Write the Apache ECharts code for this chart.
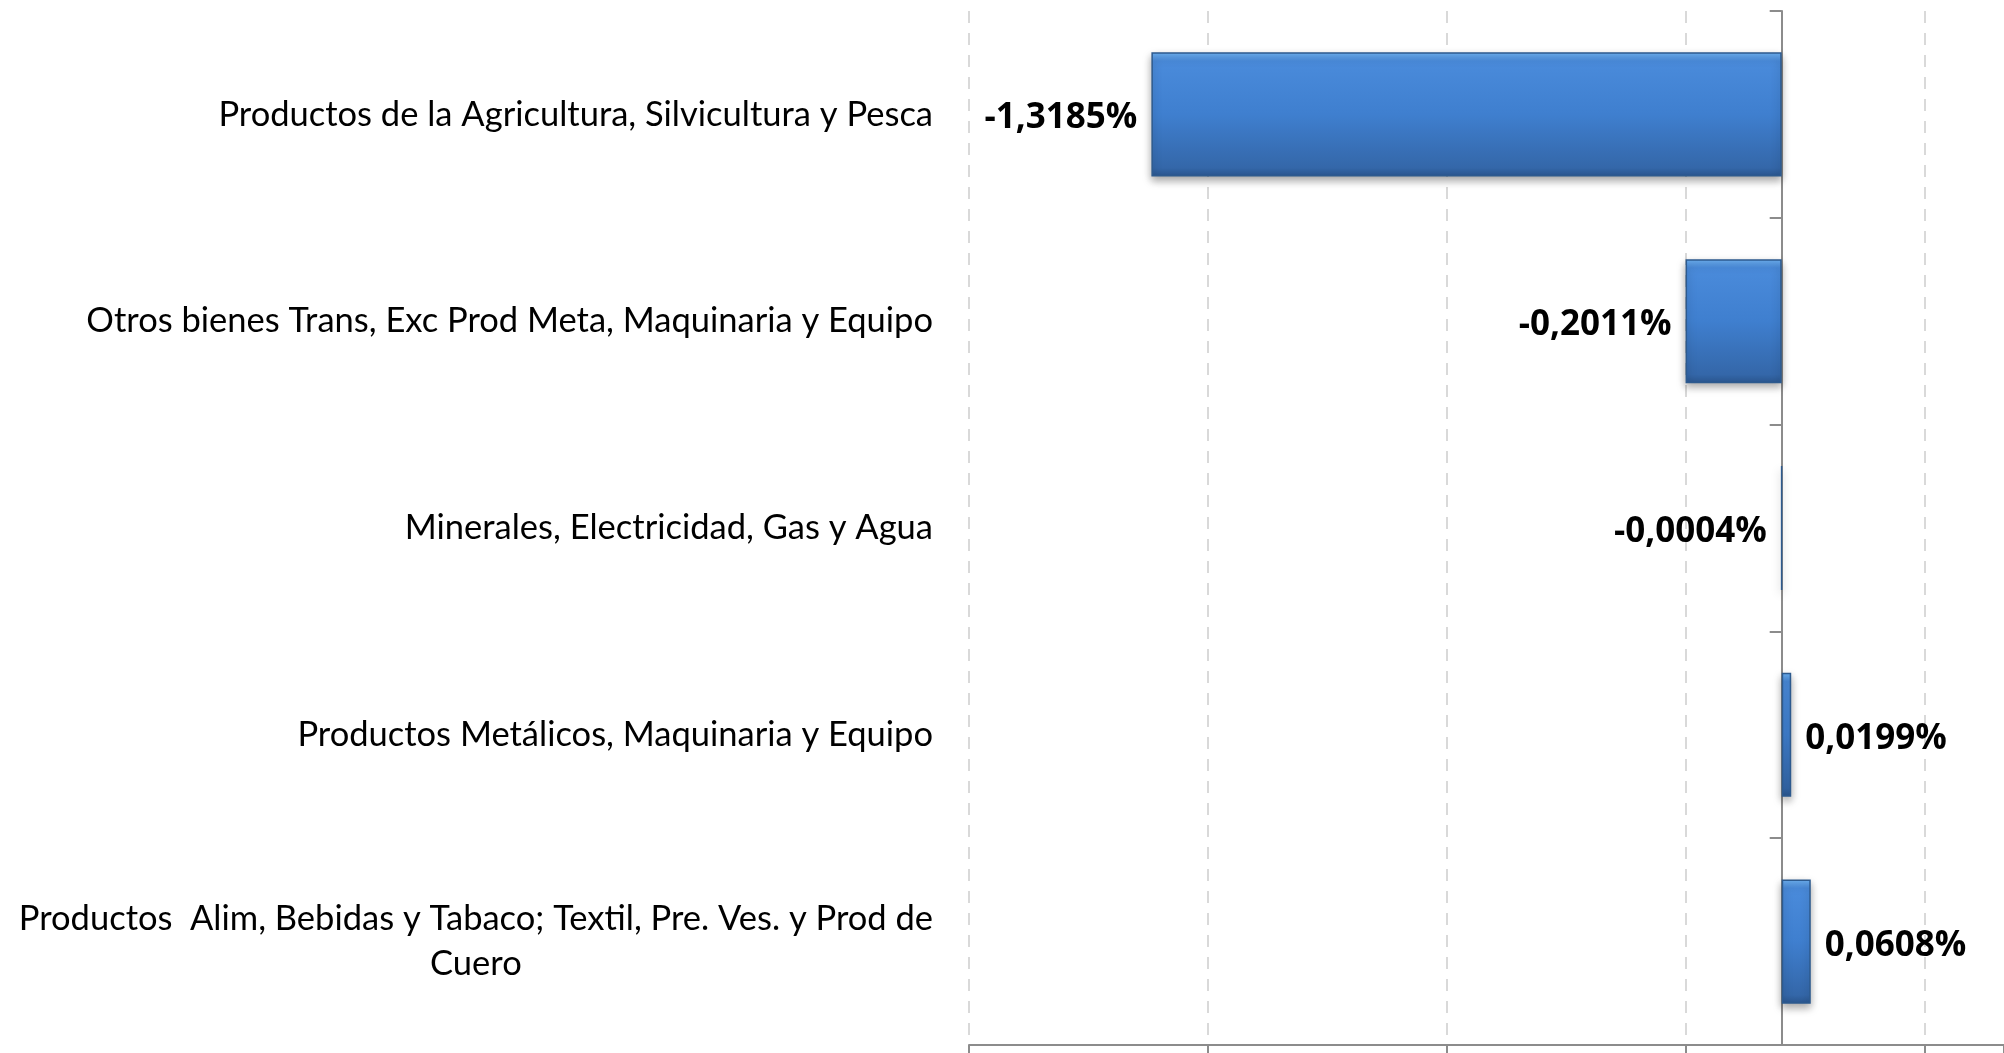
<!DOCTYPE html>
<html lang="es">
<head>
<meta charset="UTF-8">
<title>Variación por grupo de productos</title>
<script src="https://cdn.jsdelivr.net/npm/echarts@6/dist/echarts.min.js"></script>
<style>
  html, body { margin: 0; padding: 0; background: #fff; }
</style>
</head>
<body>
<div id="main" style="width: 2004px; height: 1053px"></div>
<script type="text/javascript">
  // categorias (de arriba a abajo) y valores en %
  var categorias = [
    'Productos de la Agricultura, Silvicultura y Pesca',
    'Otros bienes Trans, Exc Prod Meta, Maquinaria y Equipo',
    'Minerales, Electricidad, Gas y Agua',
    'Productos Metálicos, Maquinaria y Equipo',
    'Productos  Alim, Bebidas y Tabaco; Textil, Pre. Ves. y Prod de\nCuero'
  ];
  var valores = [-1.3185, -0.2011, -0.0004, 0.0199, 0.0608];
  var etiquetas = ['-1,3185%', '-0,2011%', '-0,0004%', '0,0199%', '0,0608%'];

  var myChart = echarts.init(document.getElementById('main'));

  var barColor = {
    type: 'linear', x: 0, y: 0, x2: 0, y2: 1,
    colorStops: [
      {offset: 0, color: '#6eb2f2'},
      {offset: 0.07, color: '#4a8bdb'},
      {offset: 0.5, color: '#3f7fcf'},
      {offset: 0.93, color: '#3467a9'},
      {offset: 1, color: '#2b5790'}
    ]
  };

  var option = {
    animation: false,
    grid: {left: 969, right: 0, top: 11, bottom: 8},
    xAxis: {
      type: 'value',
      min: -1.7,
      max: 0.465,
      interval: 0.5,
      axisLabel: {show: false},
      axisLine: {show: true, lineStyle: {color: '#8c8c8c', width: 2}},
      axisTick: {show: true, length: 10, lineStyle: {color: '#8c8c8c', width: 2}},
      splitLine: {show: true, showMaxLine: false, lineStyle: {color: '#d9d9d9', width: 2, type: [12, 10]}}
    },
    yAxis: [
      {
        type: 'category',
        data: categorias,
        inverse: true,
        axisLine: {show: true, onZero: true, lineStyle: {color: '#8c8c8c', width: 2}},
        axisTick: {show: true, length: 12, lineStyle: {color: '#8c8c8c', width: 2}},
        axisLabel: {show: false}
      },
      {
        type: 'category',
        data: categorias,
        inverse: true,
        position: 'left',
        axisLine: {show: false, onZero: false},
        axisTick: {show: false},
        axisLabel: {
          margin: 36,
          fontFamily: 'Lato',
          fontSize: 34.5,
          color: '#000',
          lineHeight: 45,
          formatter: function (v) {
            return v.split('\n').map(function (l) { return '{c|' + l + '}'; }).join('\n');
          },
          rich: {c: {align: 'center', fontFamily: 'Lato', fontSize: 34.5, color: '#000', lineHeight: 45}}
        }
      }
    ],
    series: [
      {
        type: 'bar',
        yAxisIndex: 0,
        barCategoryGap: '40%',
        data: valores.map(function (v, i) {
          return {
            value: v,
            label: {position: v < 0 ? 'left' : 'right', formatter: etiquetas[i]}
          };
        }),
        itemStyle: {
          color: barColor,
          borderColor: '#2d5a8e',
          borderWidth: 1.5,
          shadowColor: 'rgba(0,0,0,0.35)',
          shadowBlur: 8,
          shadowOffsetY: 4
        },
        label: {
          show: true,
          distance: 14,
          offset: [0, 4],
          fontFamily: 'Open Sans',
          fontWeight: 'bold',
          fontSize: 35,
          color: '#000'
        }
      }
    ]
  };
  myChart.setOption(option);
</script>
</body>
</html>
